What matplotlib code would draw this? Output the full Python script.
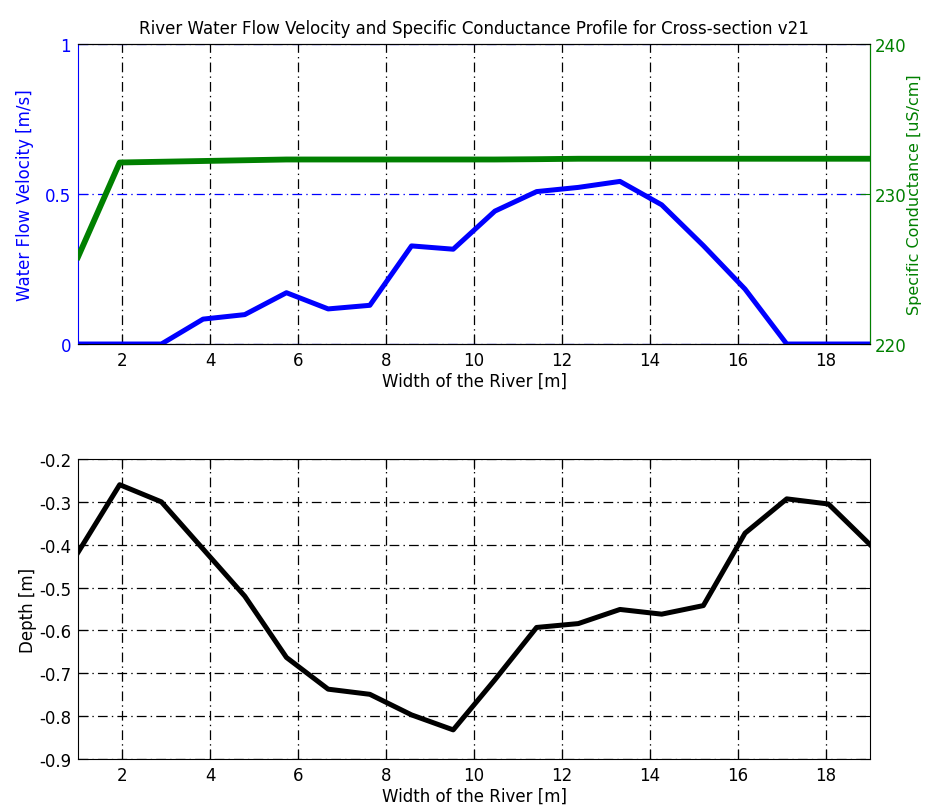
import numpy as np
import matplotlib.pyplot as plt

# --- DATA: survey stations across cross-section v21 ---
width_m = np.linspace(1, 19, 20)  # 20 equally spaced stations

velocity = [0.0, 0.0, 0.0, 0.083, 0.098, 0.171, 0.117, 0.129, 0.327, 0.316,
            0.443, 0.508, 0.522, 0.542, 0.464, 0.328, 0.183, 0.0, 0.0, 0.0]

conductance = [225.8, 232.1, 232.15, 232.2, 232.25, 232.3, 232.3, 232.3, 232.3, 232.3,
               232.3, 232.32, 232.35, 232.35, 232.35, 232.35, 232.35, 232.35, 232.35, 232.35]

depth = [-0.418, -0.26, -0.30, -0.41, -0.52, -0.663, -0.737, -0.749, -0.797, -0.832,
         -0.715, -0.593, -0.584, -0.551, -0.562, -0.542, -0.373, -0.293, -0.305, -0.40]

x_ticks = [2, 4, 6, 8, 10, 12, 14, 16, 18]

BLUE = '#0000ff'
GREEN = '#008000'
DASHDOT = (0, (7, 3, 1, 3))

plt.rcParams['font.family'] = ['DejaVu Sans']
plt.rcParams['font.size'] = 12
plt.rcParams['lines.scale_dashes'] = False
plt.rcParams['axes.linewidth'] = 0.8

fig = plt.figure(figsize=(9.33, 8.12), dpi=100)

# --- TOP: velocity (left) and conductance (right) ---
ax1 = fig.add_axes([0.0836, 0.5751, 0.849, 0.3695])
ax1.plot(width_m, velocity, color=BLUE, linewidth=3.6, zorder=3)
ax1.set_xlim(1, 19)
ax1.set_ylim(0, 1)
ax1.set_xticks(x_ticks)
ax1.set_yticks([0, 0.5, 1])
ax1.set_yticklabels(['0', '0.5', '1'])
ax1.set_xlabel('Width of the River [m]', labelpad=2)
ax1.set_ylabel('Water Flow Velocity [m/s]', color=BLUE, labelpad=8)
ax1.tick_params(axis='both', direction='in', length=7, width=0.8, pad=5)
ax1.tick_params(axis='y', colors=BLUE, right=False)
ax1.spines['left'].set_color(BLUE)
ax1.xaxis.grid(True, color='black', linestyle=DASHDOT, linewidth=0.9)
ax1.yaxis.grid(True, color=BLUE, linestyle=DASHDOT, linewidth=0.9)
ax1.set_axisbelow(True)

ax2 = ax1.twinx()
ax2.plot(width_m, conductance, color=GREEN, linewidth=4.2, zorder=3)
ax2.set_ylim(220, 240)
ax2.set_yticks([220, 230, 240])
ax2.set_ylabel('Specific Conductance [uS/cm]', color=GREEN, fontsize=11.5, labelpad=1)
ax2.tick_params(axis='y', direction='in', length=7, width=0.8, colors=GREEN, pad=3)
ax2.spines['right'].set_color(GREEN)
ax2.spines['left'].set_visible(False)

ax1.set_title('River Water Flow Velocity and Specific Conductance Profile for Cross-section v21',
              fontsize=12, pad=8)

# --- BOTTOM: bed depth profile ---
ax3 = fig.add_axes([0.0836, 0.064, 0.849, 0.3695])
ax3.plot(width_m, depth, color='black', linewidth=3.6, zorder=3)
ax3.set_xlim(1, 19)
ax3.set_ylim(-0.9, -0.2)
ax3.set_xticks(x_ticks)
ax3.set_yticks(np.arange(-0.9, -0.15, 0.1))
ax3.set_yticklabels(['-0.9', '-0.8', '-0.7', '-0.6', '-0.5', '-0.4', '-0.3', '-0.2'])
ax3.set_xlabel('Width of the River [m]', labelpad=2)
ax3.set_ylabel('Depth [m]', labelpad=1)
ax3.tick_params(axis='both', direction='in', length=7, width=0.8, pad=5,
                top=True, right=True)
ax3.grid(True, color='black', linestyle=DASHDOT, linewidth=0.9)
ax3.set_axisbelow(True)

fig.savefig('out.png', dpi=100)
